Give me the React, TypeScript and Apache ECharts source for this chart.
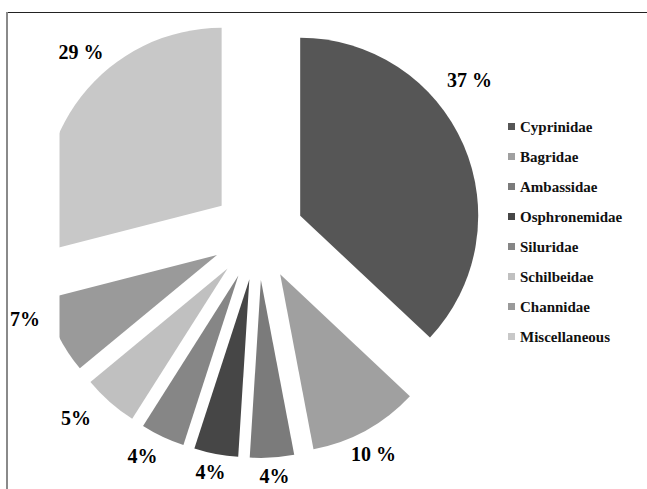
import React, { useEffect, useRef } from "react";
import * as echarts from "echarts";

const categories = [
  "Cyprinidae",
  "Bagridae",
  "Ambassidae",
  "Osphronemidae",
  "Siluridae",
  "Schilbeidae",
  "Channidae",
  "Miscellaneous",
];
const shares = [37, 10, 4, 4, 4, 5, 7, 29];
const percentLabels = ["37 %", "10 %", "4%", "4%", "4%", "5%", "7%", "29 %"];
const sliceColors = [
  "#565656",
  "#a0a0a0",
  "#7b7b7b",
  "#464646",
  "#868686",
  "#c0c0c0",
  "#9a9a9a",
  "#c8c8c8",
];
// small per-label nudges (dx, dy) relative to the library's label position
const labelNudges = [
  [-16, -56],
  [-4, 3],
  [1, -6],
  [-1, -6],
  [-10, -2],
  [-18, -2],
  [-12, -28],
  [19, -30],
];

const SERIF = "Liberation Serif";

export default function App() {
  const ref = useRef<HTMLDivElement>(null);
  useEffect(() => {
    if (!ref.current) return;
    const chart = echarts.init(ref.current, undefined, { renderer: "svg" });
    const center = [258, 234];
    chart.setOption({
      animation: false,
      backgroundColor: "#ffffff",
      legend: {
        orient: "vertical",
        left: 503,
        top: 114,
        itemWidth: 7,
        itemHeight: 7,
        itemGap: 15,
        icon: "rect",
        selectedMode: false,
        data: categories,
        textStyle: {
          fontFamily: SERIF,
          fontWeight: "bold",
          fontSize: 15,
          color: "#111",
          padding: [0, 0, 0, 0],
        },
      },
      graphic: [
        {
          type: "rect",
          z: 3,
          shape: { x: 9, y: 13, width: 50.5, height: 370 },
          style: { fill: "#ffffff" },
          silent: true,
        },
        {
          type: "line",
          z: 6,
          shape: { x1: 6, y1: 12.5, x2: 647, y2: 12.5 },
          style: { stroke: "#222", lineWidth: 1 },
          silent: true,
        },
        {
          type: "line",
          z: 6,
          shape: { x1: 7, y1: 12, x2: 7, y2: 489 },
          style: { stroke: "#8a8a8a", lineWidth: 2 },
          silent: true,
        },
      ],
      series: [
        {
          type: "pie",
          z: 2,
          center,
          radius: [0, 178],
          startAngle: 90,
          clockwise: true,
          selectedMode: "multiple",
          selectedOffset: 46,
          silent: true,
          label: { show: false },
          labelLine: { show: false },
          emphasis: { disabled: true },
          data: categories.map((name, i) => ({
            name,
            value: shares[i],
            selected: true,
            itemStyle: { color: sliceColors[i] },
          })),
        },
        {
          type: "pie",
          z: 5,
          center,
          radius: [243, 247],
          startAngle: 90,
          clockwise: true,
          silent: true,
          emphasis: { disabled: true },
          itemStyle: { color: "rgba(0,0,0,0)" },
          labelLine: { show: false },
          label: {
            show: true,
            position: "inside",
            rotate: 0,
            fontFamily: SERIF,
            fontWeight: "bold",
            fontSize: 20,
            color: "#000",
            formatter: (p: any) => percentLabels[p.dataIndex],
          },
          labelLayout: (p: any) => ({
            dx: labelNudges[p.dataIndex][0],
            dy: labelNudges[p.dataIndex][1],
          }),
          data: categories.map((name, i) => ({ name, value: shares[i] })),
        },
      ],
    });
    return () => chart.dispose();
  }, []);
  return (
    <div
      ref={ref}
      style={{ position: "fixed", left: 0, top: 0, width: 647, height: 489 }}
    />
  );
}
